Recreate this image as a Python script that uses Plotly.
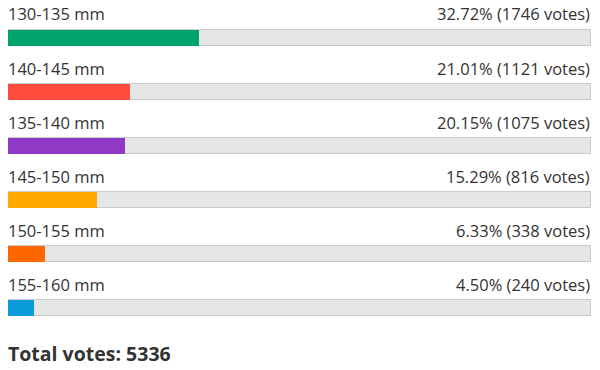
import plotly.graph_objects as go

categories = ["130-135 mm", "140-145 mm", "135-140 mm", "145-150 mm", "150-155 mm", "155-160 mm"]
votes = [1746, 1121, 1075, 816, 338, 240]
colors = ["#00A36C", "#FF4B3A", "#8E3AC6", "#FFA800", "#FF6600", "#0A9BDB"]

total = sum(votes)
pcts = [v / total * 100 for v in votes]
idx = list(range(len(categories)))

FONT = "Open Sans, Lato, sans-serif"
TXT = "#333333"

fig = go.Figure()
fig.add_trace(go.Bar(
    y=idx, x=[100] * len(idx), orientation="h", width=0.296,
    marker=dict(color="#E6E6E6", line=dict(color="#C9C9C9", width=1)),
    hoverinfo="skip", showlegend=False,
))
fig.add_trace(go.Bar(
    y=idx, x=pcts, orientation="h", width=0.296,
    marker=dict(color=colors, line=dict(width=0)),
    showlegend=False,
))

annotations = []
for i, (c, p, v) in enumerate(zip(categories, pcts, votes)):
    annotations.append(dict(x=0, y=i - 0.445, xref="x", yref="y", text=c, showarrow=False,
                            xanchor="left", yanchor="middle", xshift=-2,
                            font=dict(family=FONT, size=16.5, color=TXT)))
    annotations.append(dict(x=100, y=i - 0.445, xref="x", yref="y",
                            text=f"{p:.2f}% ({v} votes)", showarrow=False,
                            xanchor="right", yanchor="middle", xshift=1,
                            font=dict(family=FONT, size=16.5, color=TXT)))
annotations.append(dict(x=8 / 600, y=1 - 353 / 370, xref="paper", yref="paper",
                        text=f"<b>Total votes: {total}</b>", showarrow=False,
                        xanchor="left", yanchor="middle", xshift=-2,
                        font=dict(family=FONT, size=19.5, color=TXT)))

fig.update_layout(
    width=600, height=370, margin=dict(l=0, r=0, t=0, b=0),
    paper_bgcolor="white", plot_bgcolor="white",
    barmode="overlay", bargap=0,
    xaxis=dict(range=[0, 100], domain=[8 / 600, 591 / 600], visible=False, fixedrange=True),
    yaxis=dict(range=[6.137, -0.702], visible=False, fixedrange=True),
    annotations=annotations,
)
fig.write_html("out.html")
